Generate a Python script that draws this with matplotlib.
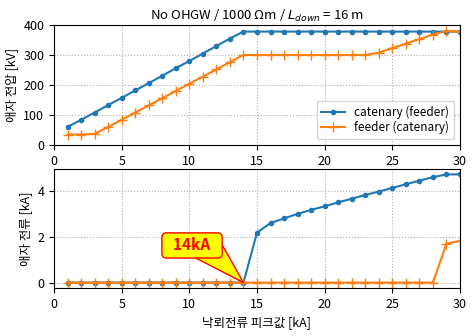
import matplotlib
matplotlib.use("Agg")
import matplotlib.pyplot as plt
import numpy as np

plt.rcParams['font.family'] = ['Noto Sans CJK KR', 'DejaVu Sans']
plt.rcParams['axes.unicode_minus'] = False

x = list(range(1, 31))
v_catenary = [60, 84, 108, 133, 157, 182, 206, 231, 256, 280, 305, 330, 355, 378,
              378, 378, 378, 378, 378, 378, 378, 378, 378, 378, 378, 378, 378, 378, 378, 378]
v_feeder = [35, 35, 37, 60, 84, 108, 132, 156, 180, 204, 228, 252, 276, 300,
            300, 300, 300, 300, 300, 300, 300, 300, 300, 308, 323, 338, 353, 368, 380, 378]
i_catenary = [0]*14 + [2.18, 2.6, 2.8, 3.0, 3.17, 3.33, 3.5, 3.66, 3.82, 3.97, 4.13, 4.29, 4.45, 4.6, 4.72, 4.72]
i_feeder = [0]*28 + [1.7, 1.82]

fig = plt.figure(figsize=(4.75, 3.36), dpi=100)
ax1 = fig.add_axes([54/475, 1-145/336, 406/475, 120/336])
ax2 = fig.add_axes([54/475, 1-288/336, 406/475, 119/336])

fs = 9
for ax in (ax1, ax2):
    ax.grid(True, linestyle=':', color='#b0b0b0', linewidth=0.8)
    ax.set_xlim(0, 30)
    ax.set_xticks([0, 5, 10, 15, 20, 25, 30])
    ax.tick_params(labelsize=fs)

ax1.plot(x, v_catenary, '.-', color='#1f77b4', label='catenary (feeder)', lw=1.5, ms=6)
ax1.plot(x, v_feeder, '+-', color='#ff7f0e', label='feeder (catenary)', lw=1.5, ms=7)
ax1.set_ylim(0, 400)
ax1.set_yticks([0, 100, 200, 300, 400])
ax1.set_ylabel('애자 전압 [kV]', fontsize=fs)
ax1.set_title('No OHGW / 1000 Ωm / $L_{down}$ = 16 m', fontsize=9.5, pad=4)
ax1.legend(loc='lower right', fontsize=8.5, labelspacing=0.2, handlelength=2.0,
           borderpad=0.4)

ax2.plot(x, i_catenary, '.-', color='#1f77b4', lw=1.5, ms=6)
ax2.plot(x, i_feeder, '+-', color='#ff7f0e', lw=1.5, ms=7)
ax2.set_yticks([0, 2, 4])
ax2.set_ylabel('애자 전류 [kA]', fontsize=fs)
ax2.set_xlabel('낙뢰전류 피크값 [kA]', fontsize=fs)

# callout wedge (drawn beneath the box)
ax2.annotate('', xy=(14, 0), xytext=(11.15, 1.62), zorder=4,
             arrowprops=dict(arrowstyle='wedge,tail_width=2.3,shrink_factor=0.5',
                             fc='#ffff00', ec='red', lw=1, shrinkA=0, shrinkB=0))
ax2.text(10.2, 1.62, '  14kA  ', ha='center', va='center', zorder=5,
         fontsize=11, fontweight='bold', color='red',
         bbox=dict(boxstyle='round,pad=0.3', fc='#ffff00', ec='red', lw=1))

fig.savefig('out.png', dpi=100)
